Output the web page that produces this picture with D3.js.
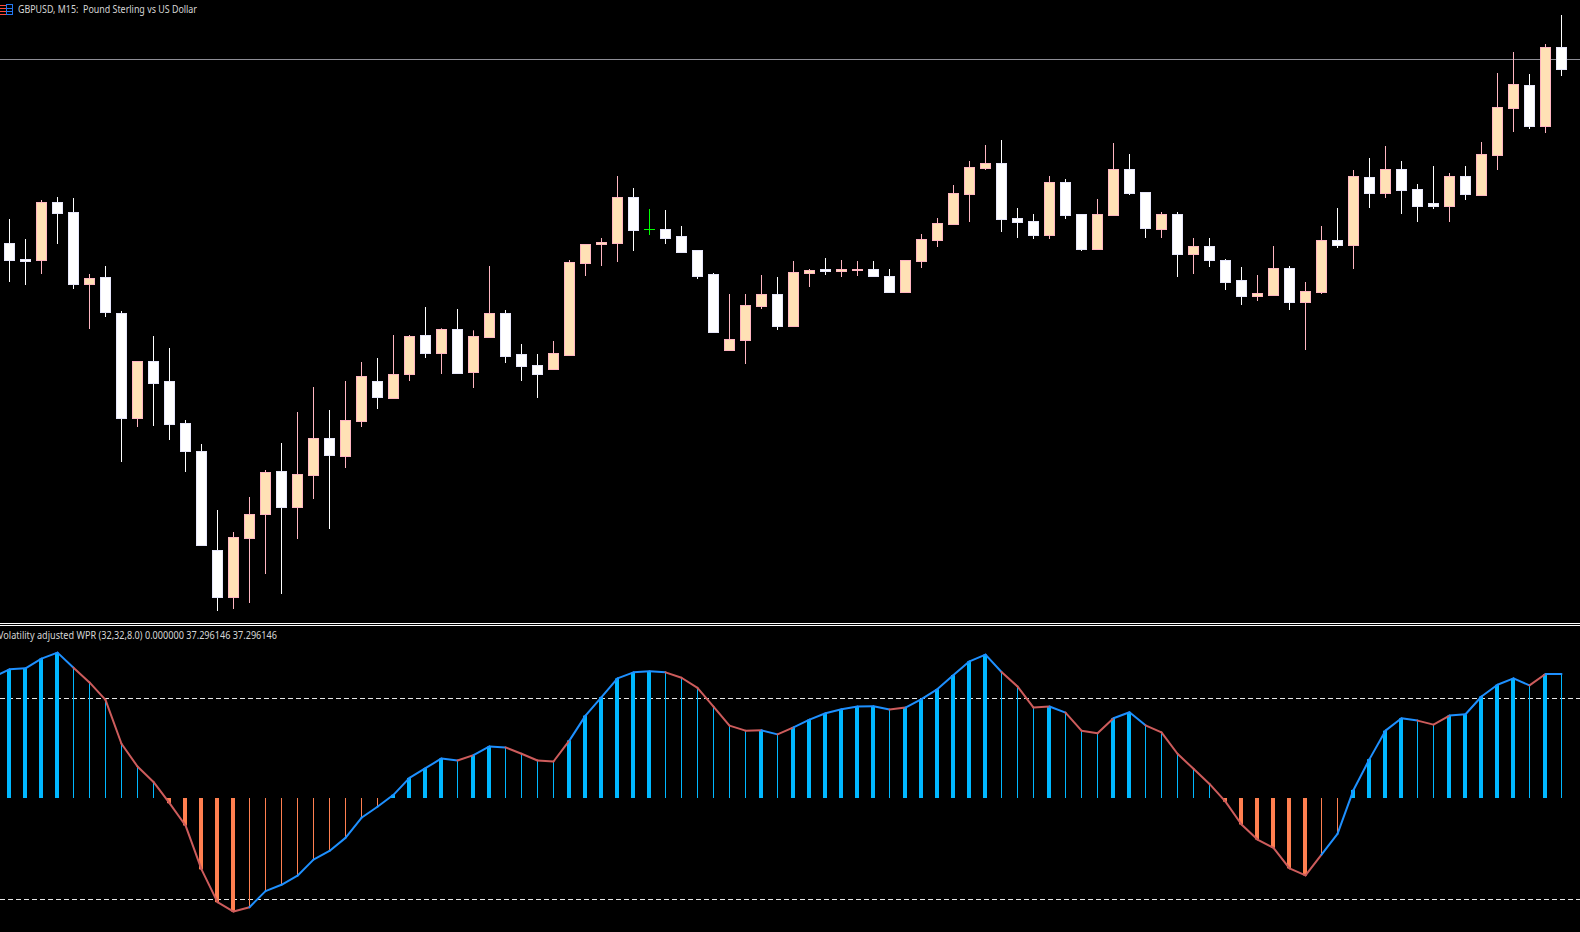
<!DOCTYPE html>
<html><head><meta charset="utf-8">
<style>html,body{margin:0;padding:0;background:#000;overflow:hidden}svg{display:block}text{font-family:"Noto Sans","DejaVu Sans",sans-serif;font-size:11px;fill:#d6d6d6}</style>
<script src="https://cdn.jsdelivr.net/npm/d3@7"></script></head><body><script>
const titleText="GBPUSD, M15:  Pound Sterling vs US Dollar";
const indicatorText="Volatility adjusted WPR (32,32,8.0) 0.000000 37.296146 37.296146";
// candle prices in points above the chart floor
const opens=[376.5,360.5,359.5,417.5,407.5,335.5,342.5,306.5,201.5,258.5,238.5,196.5,168.5,69.5,22.5,81.5,105.5,148.5,112.5,144.5,181.5,163.5,198.5,238.5,221.5,245.5,284.5,266.5,290.5,247.5,282.5,306.5,265.5,254.5,250.5,264.5,356.5,375.5,376.5,422.5,390.5,390.5,383.5,369.5,345.5,269.5,279.5,313.5,325.5,293.5,346.5,350.5,348.5,349.5,350.5,343.5,327.5,358.5,379.5,395.5,425.5,451.5,456.5,401.5,398.5,384.5,437.5,405.5,370.5,404.5,450.5,427.5,390.5,405.5,365.5,373.5,359.5,339.5,323.5,324.5,351.5,317.5,327.5,379.5,374.5,442.5,426.5,450.5,430.5,416.5,413.5,443.5,424.5,464.5,511.5,534.5,493.5,572.5];
const closes=[359.5,358.5,417.5,406.5,335.5,341.5,307.5,201.5,258.5,236.5,195.5,168.5,74.5,22.5,82.5,105.5,147.5,112.5,145.5,181.5,164.5,199.5,243.5,222.5,245.5,283.5,266.5,290.5,246.5,283.5,306.5,263.5,253.5,245.5,266.5,357.5,375.5,377.5,422.5,389.5,390.5,381.5,367.5,343.5,287.5,280.5,314.5,325.5,293.5,347.5,349.5,348.5,350.5,350.5,343.5,327.5,359.5,380.5,396.5,426.5,452.5,456.5,400.5,397.5,384.5,437.5,404.5,370.5,405.5,450.5,426.5,391.5,405.5,365.5,373.5,359.5,337.5,323.5,326.5,351.5,317.5,328.5,379.5,374.5,443.5,426.5,450.5,429.5,413.5,413.5,443.5,425.5,465.5,512.5,535.5,493.5,572.5,550.5];
const highs=[401,381,420,423,422,346,354,309,258.5,284,272,200,176,110,88,123,150,177,208,233,210,239,258,262,285,285,313,291.7,311,289.7,354,310,276,266,279,360,375.5,382,444,432,411,410,394,369.5,347,326,326,345,343,359,351,362,360,359,359,351,359.5,386,402,435,459,475,480,412,406,444,441,405.5,421,477,466,427.5,408,408,382,382,361,353,345,374,354,338,394,412,450,462,474,459,436,454,447,454,478,547,568,546,576,605];
const lows=[338,335,346,376,331,291,303,158,193,194,180,148,74.5,9,11,17,46,26,81,121,91,152,193,211,221.5,239,262,246,246.5,232,282.5,257,239,222,250.5,264.5,344,354,358,369,385,376,367.5,341,287.5,269.5,256,311,290,293.5,333,345,343,344,343.5,327.5,327.5,352,373,395.5,398,450,388,382,381,381,401,369,370.5,404.5,425,382,382,343,346,353,330,315,319,324.5,310,270,326,372,351,412,422,406,398,411,398,420,424.5,450,488,491,487,544];
// indicator series, first entry is the bar just off the left edge
const wprValues=[36.4,38.7,39.0,41.9,43.7,39.2,34.8,29.6,16.5,9.7,5.1,-1.25,-7.9,-21.0,-30.8,-33.6,-32.3,-27.5,-25.6,-22.9,-18.1,-15.5,-11.6,-5.6,-2.3,1.25,6.3,9.2,12.1,11.5,13.1,15.7,15.4,13.5,11.5,11.2,17.5,24.9,30.4,36.0,37.8,38.1,37.8,36.2,33.2,27.6,21.9,20.4,20.5,19.3,21.4,23.7,25.6,26.8,27.6,27.7,26.7,27.3,29.8,32.8,37.0,41.1,43.1,37.9,33.6,27.3,27.6,25.8,20.4,19.6,24.1,25.9,22.0,19.9,13.5,9.0,4.5,-0.8,-7.6,-12.1,-14.6,-20.7,-22.8,-16.6,-10.4,2.7,11.9,20.4,24.1,23.4,22.2,24.9,25.3,30.6,34.1,36.0,33.9,37.3,37.3];
const levels=[30,-30];
const hLinePrice=560.5;

const W=1580,H=932;
const svg=d3.select("body").append("svg").attr("width",W).attr("height",H).style("background","#000");
const x=d3.scaleLinear().domain([0,97]).range([9.5,1561.5]);
const y=d3.scaleLinear().domain([0,620]).range([620,0]);
const yw=d3.scaleLinear().domain([0,30]).range([799,698.5]);

// main pane
svg.append("line").attr("x1",0).attr("x2",W).attr("y1",y(hLinePrice)).attr("y2",y(hLinePrice))
  .attr("stroke","#8e8e96").attr("stroke-width",1);
const candles=d3.range(opens.length).map(i=>({i,o:opens[i],c:closes[i],h:highs[i],l:lows[i]}));
const edge=d=>d.c===d.o?"#00ff00":d.c>d.o?"#ffb6c1":"#e6e6fa";
const wick=d=>d.c===d.o?"#00ff00":d.c>d.o?"#ffb6c1":"#ffffff";
const fill=d=>d.c>d.o?"#ffe1b5":"#ffffff";
const g=svg.append("g");
g.selectAll(".w").data(candles).join("line").attr("class","w")
  .attr("x1",d=>x(d.i)).attr("x2",d=>x(d.i)).attr("y1",d=>y(d.h)).attr("y2",d=>y(d.l))
  .attr("stroke",wick).attr("stroke-width",1);
g.selectAll(".b").data(candles.filter(d=>d.c!==d.o)).join("rect").attr("class","b")
  .attr("x",d=>x(d.i)-5).attr("width",10)
  .attr("y",d=>y(Math.max(d.o,d.c))).attr("height",d=>Math.abs(d.o-d.c))
  .attr("fill",fill).attr("stroke",edge).attr("stroke-width",1);
g.selectAll(".d").data(candles.filter(d=>d.c===d.o)).join("line").attr("class","d")
  .attr("x1",d=>x(d.i)-5.5).attr("x2",d=>x(d.i)+5.5).attr("y1",d=>y(d.c)).attr("y2",d=>y(d.c))
  .attr("stroke",edge).attr("stroke-width",1);

// title and symbol icon
const ic=svg.append("g");
[5,8,11,14].forEach(v=>ic.append("rect").attr("x",0).attr("y",v).attr("width",6).attr("height",1).attr("fill","#ff4a3c"));
ic.append("rect").attr("x",6.5).attr("y",4.5).attr("width",6).attr("height",10).attr("fill","none").attr("stroke","#2477f0");
[8,11].forEach(v=>ic.append("rect").attr("x",7).attr("y",v).attr("width",5).attr("height",1).attr("fill","#2477f0"));
svg.append("text").attr("x",18).attr("y",13).attr("textLength",179).attr("lengthAdjust","spacingAndGlyphs").style("white-space","pre").text(titleText);

// pane separator
[623.5,625.5].forEach(v=>svg.append("line").attr("x1",0).attr("x2",W).attr("y1",v).attr("y2",v).attr("stroke","#ffffff"));

// indicator pane
const wpr=wprValues.slice(1).map((v,i)=>({i,v,p:wprValues[i]}));
svg.selectAll(".lv").data(levels).join("line").attr("class","lv")
  .attr("x1",0).attr("x2",W).attr("y1",d=>yw(d)).attr("y2",d=>yw(d))
  .attr("stroke","#e6e6e6").attr("stroke-width",1).attr("stroke-dasharray","5,3");
const thick=d=>(d.v>d.p)===(d.v>0)&&d.v!==d.p;
const base=yw(0)-1;
svg.selectAll(".h").data(wpr).join("rect").attr("class","h")
  .attr("x",d=>thick(d)?x(d.i)-2.5:x(d.i)-.5).attr("width",d=>thick(d)?4:1)
  .attr("y",d=>d.v>0?yw(d.v):base).attr("height",d=>Math.abs(yw(d.v)-base))
  .attr("fill",d=>d.v>0?"#00b7ff":"#ff7f50");
const segs=d3.range(-1,97).map(i=>({i,a:wprValues[i+1],b:wprValues[i+2],up:i<0||wprValues[i+1]>=wprValues[i]}));
svg.selectAll(".s").data(segs).join("line").attr("class","s")
  .attr("x1",d=>x(d.i)).attr("x2",d=>x(d.i+1)).attr("y1",d=>yw(d.a)).attr("y2",d=>yw(d.b))
  .attr("stroke",d=>d.up?"#1e90ff":"#cd5c5c").attr("stroke-width",2).attr("stroke-linecap","round");
svg.append("text").attr("x",-2).attr("y",639).attr("textLength",279).attr("lengthAdjust","spacingAndGlyphs").text(indicatorText);
</script></body></html>
